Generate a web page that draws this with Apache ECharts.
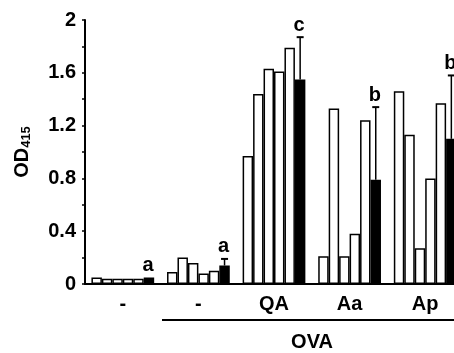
<!DOCTYPE html>
<html>
<head>
<meta charset="utf-8">
<script src="https://cdn.jsdelivr.net/npm/echarts@6/dist/echarts.min.js"></script>
<style>
  html, body { margin: 0; padding: 0; background: #fff; }
  #main { width: 454px; height: 353px; }
</style>
</head>
<body>
<div id="main"></div>
<script>
// groups on the x axis
const groups = ['-', '-', 'QA', 'Aa', 'Ap'];
// five individual (white) bars per group
const ind1 = [0.05, 0.09, 0.97, 0.21, 1.46];
const ind2 = [0.04, 0.20, 1.44, 1.33, 1.13];
const ind3 = [0.04, 0.16, 1.63, 0.21, 0.27];
const ind4 = [0.04, 0.08, 1.61, 0.38, 0.80];
const ind5 = [0.04, 0.10, 1.79, 1.24, 1.37];
// mean (black bar) and upper error
const mean = [0.05, 0.14, 1.55, 0.79, 1.10];
const err = [0, 0.05, 0.32, 0.55, 0.48];
const letters = ['a', 'a', 'c', 'b', 'b'];

const FONT = 'Liberation Sans';
const catGap = 0.17;   // barCategoryGap as fraction

let chart = echarts.init(document.getElementById('main'));

function whiteBar(data) {
  return {
    type: 'bar',
    data: data,
    barGap: 0,
    barCategoryGap: (catGap * 100) + '%',
    itemStyle: { color: '#fff', borderColor: '#000', borderWidth: 1.5 }
  };
}

let option = {
  animation: false,
  // plot runs past the right edge (the original figure is cropped)
  grid: { left: 85, width: 378, top: 20, bottom: 69, outerBoundsMode: 'none', containLabel: false },
  xAxis: {
    type: 'category',
    data: groups,
    axisLine: { lineStyle: { color: '#000', width: 2 } },
    axisTick: { inside: true, length: 3, lineStyle: { color: '#000', width: 1.5 } },
    axisLabel: { color: '#000', fontSize: 20, fontWeight: 'bold', fontFamily: FONT, margin: 10 }
  },
  yAxis: {
    type: 'value',
    min: 0,
    max: 2,
    interval: 0.4,
    splitLine: { show: false },
    axisLine: { show: true, lineStyle: { color: '#000', width: 2 } },
    axisTick: { show: true, length: 3, lineStyle: { color: '#000', width: 1.5 } },
    minorTick: { show: true, splitNumber: 2, length: 3, lineStyle: { color: '#000', width: 1.5 } },
    axisLabel: {
      color: '#000', fontSize: 20, fontWeight: 'bold', fontFamily: FONT, margin: 9,
      formatter: v => String(+v.toFixed(1))
    },
    name: '{m|OD}{s|415}',
    nameLocation: 'middle',
    nameRotate: 90,
    nameGap: 52,
    nameTextStyle: {
      rich: {
        m: { fontSize: 20, fontWeight: 'bold', fontFamily: FONT, color: '#000' },
        s: { fontSize: 13, fontWeight: 'bold', fontFamily: FONT, color: '#000', padding: [9, 0, 0, 0] }
      }
    }
  },
  series: [
    whiteBar(ind1), whiteBar(ind2), whiteBar(ind3), whiteBar(ind4), whiteBar(ind5),
    {
      type: 'bar',
      data: mean,
      barGap: 0,
      barCategoryGap: (catGap * 100) + '%',
      itemStyle: { color: '#000', borderColor: '#000', borderWidth: 1.5 }
    },
    {
      type: 'custom',
      z: 10,
      data: mean.map((m, i) => [i, m, err[i]]),
      renderItem: function (params, api) {
        const i = api.value(0);
        const m = api.value(1);
        const e = api.value(2);
        const band = api.size([1, 0])[0];
        const bw = band * (1 - catGap) / 6;
        const off = -band * (1 - catGap) / 2 + 5.5 * bw;
        const base = api.coord([i, m]);
        const top = api.coord([i, m + e]);
        const x = base[0] + off;
        const children = [];
        if (e > 0) {
          children.push({
            type: 'line',
            shape: { x1: x, y1: base[1], x2: x, y2: top[1] },
            style: { stroke: '#000', lineWidth: 1.5 }
          });
          children.push({
            type: 'line',
            shape: { x1: x - 3.5, y1: top[1], x2: x + 3.5, y2: top[1] },
            style: { stroke: '#000', lineWidth: 2 }
          });
        }
        children.push({
          type: 'text',
          x: x - 1,
          y: top[1] - 2,
          style: {
            text: letters[params.dataIndex],
            fill: '#000',
            font: 'bold 20px ' + FONT,
            align: 'center',
            verticalAlign: 'bottom'
          }
        });
        return { type: 'group', children: children };
      }
    }
  ],
  graphic: [
    {
      type: 'line',
      shape: { x1: 162, y1: 320, x2: 454, y2: 320 },
      style: { stroke: '#000', lineWidth: 2 }
    },
    {
      type: 'text',
      x: 312,
      y: 342,
      style: {
        text: 'OVA',
        fill: '#000',
        font: 'bold 20px ' + FONT,
        align: 'center',
        verticalAlign: 'middle'
      }
    }
  ]
};

chart.setOption(option);
</script>
</body>
</html>
